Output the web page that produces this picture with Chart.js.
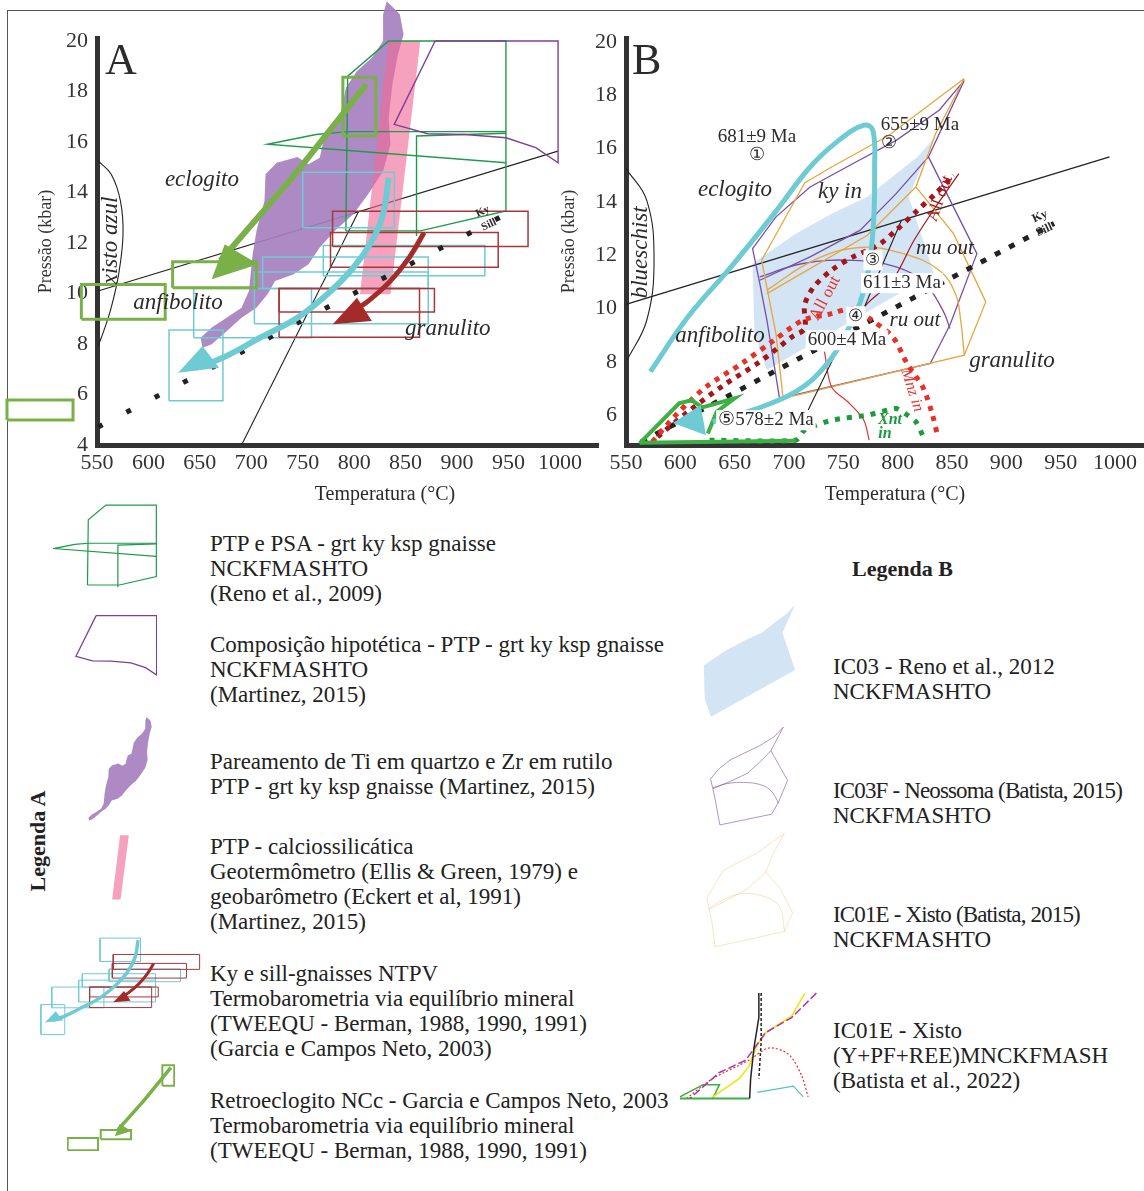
<!DOCTYPE html>
<html>
<head>
<meta charset="utf-8">
<script src="https://cdn.jsdelivr.net/npm/chart.js@4.4.0/dist/chart.umd.min.js"></script>
<style>
  body { margin: 0; background: #fff; }
  #page { position: relative; width: 1144px; height: 1191px; overflow: hidden;
          font-family: "Liberation Serif", "Times New Roman", serif; color: #222; }
  #page canvas { position: absolute; }
  .frame { position: absolute; left: 7px; top: 10px; width: 1150px; height: 1200px;
           border-top: 1.5px solid #555; border-left: 1.5px solid #555; }
  .lg { position: absolute; font-size: 23px; line-height: 25px; white-space: nowrap; }
  .tight { letter-spacing: -0.85px; }
  .title { position: absolute; font-weight: bold; font-size: 22px; white-space: nowrap; }
</style>
</head>
<body>
<div id="page">
  <div class="frame"></div>
  <canvas id="chartA" width="605" height="510" style="left:0;top:0"></canvas>
  <canvas id="chartB" width="594" height="510" style="left:550px;top:0"></canvas>

  <div class="title" style="left:-12px;top:828px;transform:rotate(-90deg);">Legenda A</div>
  <div class="title" style="left:852px;top:556px;">Legenda B</div>

  <div class="lg" style="left:210px;top:531px">PTP e PSA - grt ky ksp gnaisse<br>NCKFMASHTO<br>(Reno et al., 2009)</div>
  <div class="lg" style="left:210px;top:632px">Composição hipotética - PTP - grt ky ksp gnaisse<br>NCKFMASHTO<br>(Martinez, 2015)</div>
  <div class="lg" style="left:210px;top:749px">Pareamento de Ti em quartzo e Zr em rutilo<br>PTP - grt ky ksp gnaisse (Martinez, 2015)</div>
  <div class="lg" style="left:210px;top:834px">PTP - calciossilicática<br>Geotermômetro (Ellis &amp; Green, 1979) e<br>geobarômetro (Eckert et al, 1991)<br>(Martinez, 2015)</div>
  <div class="lg" style="left:210px;top:961px">Ky e sill-gnaisses NTPV<br>Termobarometria via equilíbrio mineral<br>(TWEEQU - Berman, 1988, 1990, 1991)<br>(Garcia e Campos Neto, 2003)</div>
  <div class="lg" style="left:210px;top:1088px">Retroeclogito NCc - Garcia e Campos Neto, 2003<br>Termobarometria via equilíbrio mineral<br>(TWEEQU - Berman, 1988, 1990, 1991)</div>

  <div class="lg" style="left:833px;top:654px">IC03 - Reno et al., 2012<br>NCKFMASHTO</div>
  <div class="lg" style="left:833px;top:778px"><span class="tight">IC03F - Neossoma (Batista, 2015)</span><br>NCKFMASHTO</div>
  <div class="lg" style="left:833px;top:902px"><span class="tight">IC01E - Xisto (Batista, 2015)</span><br>NCKFMASHTO</div>
  <div class="lg" style="left:833px;top:1018px">IC01E - Xisto<br>(Y+PF+REE)MNCKFMASH<br>(Batista et al., 2022)</div>
</div>

<script>
// ---- axes ----
const tempTicks = [550, 600, 650, 700, 750, 800, 850, 900, 950, 1000];
const pressTicksA = [4, 6, 8, 10, 12, 14, 16, 18, 20];
const pressTicksB = [6, 8, 10, 12, 14, 16, 18, 20];

// ---- diagram A ----
// Ti-in-quartz / Zr-in-rutile field (purple blob)
const blobT = [831.7, 844.4, 848.0, 842.5, 837.1, 833.5, 835.3, 828.1, 813.6, 799.1, 781.0, 766.5, 755.6, 741.2,
  723.1, 715.8, 705.0, 690.5, 676.0, 661.5, 652.5, 650.7, 661.5, 676.0, 690.5, 697.7, 701.3, 705.0, 712.8, 713.8,
  724.7, 744.8, 755.6, 766.5, 770.1, 773.8, 784.6, 788.2, 791.9, 802.7, 817.2, 828.1, 828.1];
const blobP = [21.58, 21.06, 20.26, 19.47, 18.28, 16.96, 15.91, 14.85, 13.93, 13.14, 12.48, 11.82, 11.16, 10.76,
  10.50, 9.97, 9.44, 9.04, 8.51, 7.99, 7.85, 8.25, 8.65, 9.04, 9.44, 10.10, 11.55, 12.48, 13.66, 14.72,
  15.18, 15.41, 15.12, 15.38, 16.04, 16.50, 16.70, 17.36, 18.15, 18.81, 19.34, 20.0, 21.06];
// calc-silicate band (pink)
const bandT = [833.5, 864.3, 835.3, 805.6];
const bandP = [20.0, 20.0, 9.97, 9.97];
// Reno et al. 2009 (green)
const renoOuterT = [791.9, 793.7, 833.5, 947.5, 947.5, 864.3, 791.9];
const renoOuterP = [12.48, 18.61, 20.0, 20.0, 13.27, 12.48, 12.48];
const renoWedgeT = [947.5, 793.7, 762.9, 715.8, 947.5];
const renoWedgeP = [16.41, 16.41, 16.30, 15.91, 15.18];
const renoInnerT = [860.6, 860.6, 947.5];
const renoInnerP = [12.28, 16.24, 16.35];
// Martinez 2015 (purple outline)
const martT = [878.7, 998.2, 998.2, 976.5, 947.5, 907.7, 871.5, 838.9, 878.7];
const martP = [20.0, 20.0, 15.18, 15.78, 16.17, 16.30, 16.33, 16.70, 20.0];
// reaction lines
const reactA1T = [551, 998];
const reactA1P = [10.1, 15.64];
const reactA2T = [690.5, 804.5];
const reactA2P = [4.0, 13.27];
const blueA_T = [551.1, 563.8, 572.8, 575.3, 571.0, 563.8, 556.5, 551.1];
const blueA_P = [15.25, 14.72, 13.66, 12.34, 10.76, 9.44, 8.51, 7.92];
const kySillAT = [551, 944];
const kySillAP = [4.71, 13.07];
// retroeclogite boxes (green)
const retroT1 = [789, 623.5, 534.8, 462.5];
const retroT2 = [821, 705, 616.3, 526.7];
const retroP1 = [16.24, 10.23, 8.98, 4.99];
const retroP2 = [18.57, 11.26, 10.36, 5.78];
const retroArrT = [811.8, 740, 670];
const retroArrP = [18.28, 14.6, 11.3];
const retroHeadT = [661.5, 674.2, 706.8];
const retroHeadP = [10.56, 11.95, 11.16];
// NTPV gneisses: cyan and dark red boxes
const cyanT1 = [750, 770, 711, 703, 644, 620];
const cyanT2 = [839, 927, 872, 872, 758.5, 672.4];
const cyanP1 = [12.6, 10.7, 10.2, 8.8, 8.25, 5.75];
const cyanP2 = [14.8, 11.9, 11.45, 10.85, 10.2, 8.55];
const redT1 = [779, 777, 727, 727];
const redT2 = [969, 940, 878, 863.5];
const redP1 = [11.86, 11.04, 9.27, 8.27];
const redP2 = [13.26, 12.42, 10.2, 10.2];
const cyanArrT = [833.5, 828.1, 817.2, 799.1, 773.8, 744.8, 708.6, 672.4, 645];
const cyanArrP = [14.59, 13.14, 12.08, 11.02, 9.97, 9.04, 8.25, 7.46, 7.05];
const cyanHeadT = [628.9, 652.5, 668.8];
const cyanHeadP = [6.86, 7.92, 7.06];
const redArrT = [867.9, 853.4, 835.3, 813.6, 799.1, 792];
const redArrP = [12.41, 11.42, 10.50, 9.70, 9.31, 9.1];
const redHeadT = [779.2, 802.7, 817.2];
const redHeadP = [8.78, 9.83, 8.91];

// ---- diagram B ----
const ic03T = [666.5, 706.2, 739.2, 772.2, 798.6, 818.4, 833.3, 810.2, 833.3, 679.7, 668.2];
const ic03P = [11.69, 12.81, 13.56, 14.19, 15.06, 15.69, 16.38, 14.19, 11.31, 7.69, 9.06];
const ic03fOutT = [861.3, 838.2, 798.6, 759.0, 719.4, 688.0, 666.5, 673.1, 679.7, 691.3, 830.0, 848.1, 872.9, 828.3, 861.3];
const ic03fOutP = [18.56, 17.44, 16.31, 15.44, 14.56, 13.44, 12.25, 10.94, 9.56, 6.63, 7.94, 9.38, 12.06, 15.69, 18.56];
const ic03fInT = [828.3, 798.6, 765.6, 719.4, 673.1];
const ic03fInP = [15.69, 14.31, 12.94, 11.94, 11.06];
const ic03fArcT = [673.1, 712.8, 759.0, 798.6, 825.0, 841.5, 848.1];
const ic03fArcP = [11.19, 11.69, 11.81, 11.56, 10.94, 9.94, 9.25];
const ic01eOutT = [861.3, 792.0, 739.2, 714.4, 674.8, 688.0, 694.6, 861.3, 881.1, 851.4, 816.8, 834.9, 861.3];
const ic01eOutP = [18.63, 16.5, 15.31, 14.71, 11.81, 9.06, 6.63, 8.25, 10.25, 12.81, 14.56, 16.56, 18.63];
const ic01eInT = [679.7, 772.2, 816.8];
const ic01eInP = [10.56, 12.75, 14.56];
const ic01eArcT = [679.7, 722.7, 765.6, 805.2, 838.2, 853.1, 858.0, 861.3];
const ic01eArcP = [10.69, 11.81, 12.29, 12.06, 11.44, 10.56, 9.56, 8.25];
const loopT = [572.4, 607.1, 646.7, 686.3, 719.4, 745.8, 768.9, 777.1, 778.8, 777.1, 768.9, 752.4, 732.6, 706.2, 666.5, 630];
const loopP = [7.63, 9.69, 11.56, 13.56, 15.31, 16.31, 16.88, 16.69, 15.31, 12.81, 10.69, 9.06, 7.81, 6.88, 6.19, 5.75];
const loopHeadT = [593.2, 618.7, 623.6];
const loopHeadP = [5.71, 6.38, 5.25];
const reactB1T = [550, 995];
const reactB1P = [10.16, 15.69];
const blueB_T = [550, 569.1, 575.8, 569.1, 551];
const blueB_P = [15.25, 14.06, 11.81, 9.56, 8.06];
const kySillBT = [564.2, 943.9];
const kySillBP = [5.0, 13.19];
const allOutDarkT = [579.1, 607.1, 640.1, 673.1, 702.9, 714.4, 714.4, 722.7, 739.2, 759.0, 782.1, 798.6, 818.4, 834.9, 851.4];
const allOutDarkP = [5.19, 6.13, 7.13, 8.0, 8.94, 9.25, 10.13, 10.81, 11.44, 11.94, 12.38, 12.94, 13.69, 14.31, 15.0];
const allOutRedT = [574.1, 597.2, 623.6, 656.6, 686.3, 712.8, 739.2, 759.0, 775, 795.7, 808.6, 823.3, 831.6, 837.1];
const allOutRedP = [5.0, 6.06, 7.06, 7.94, 8.81, 9.56, 9.81, 10.0, 9.6, 8.92, 7.94, 7.04, 6.07, 5.17];
const thinRedT = [732.6, 739.2, 755.7, 768.9, 773.8];
const thinRedP = [8.38, 7.06, 6.44, 5.81, 5.06];
const thinDarkT = [754.0, 772.2, 795.3, 815.1, 834.9, 856.4];
const thinDarkP = [9.19, 10.19, 11.06, 12.56, 13.81, 15.06];
const xntT = [626.9, 706.2, 714.4, 739.2, 772.2, 798.6, 806.9, 816.8, 825.0];
const xntP = [5.06, 5.06, 5.44, 5.81, 6.0, 6.25, 6.06, 5.75, 5.06];
const greenBaseT = [562.5, 706.2];
const greenBaseP = [4.96, 5.04];
const greenPathT = [562.5, 598.9, 610.4, 620.3, 650.0, 633.5, 625.3];
const greenPathP = [4.94, 6.44, 6.56, 6.29, 6.63, 6.13, 5.31];
const leader1T = [803.5, 759.0];
const leader1P = [13.31, 9.06];
const leader2T = [745.8, 717.7];
const leader2P = [8.56, 6.19];

// ---- small composite diagram used in legend B (its own units) ----
const mBlackT = [240, 240, 225, 215, 212];
const mBlackP = [360, 280, 180, 80, 15];
const mDashT = [247, 247, 240];
const mDashP = [360, 200, 80];
const mYellowT = [380, 340, 260, 235, 210, 180, 100];
const mYellowP = [360, 285, 230, 190, 120, 80, 20];
const mPurpleT = [415, 340, 260, 200, 120, 30];
const mPurpleP = [360, 280, 230, 140, 100, 15];
const mRedT = [20, 100, 210, 270, 330, 370, 390];
const mRedP = [15, 80, 140, 180, 160, 90, 20];
const mCyanT = [235, 345, 375];
const mCyanP = [35, 55, 20];
const mGreenT = [0, 70, 120, 100];
const mGreenP = [20, 60, 60, 15];
const mGreenBaseT = [0, 212];
const mGreenBaseP = [15, 15];

// ---- helpers ----
Chart.defaults.font.family = '"Liberation Serif", "Times New Roman", serif';
Chart.defaults.color = '#2b2b2b';

const SERIF = '"Liberation Serif", serif';
const pts = (xs, ys) => xs.map((x, i) => ({x: x, y: ys[i]}));

function line(xs, ys, color, width, extra) {
  return Object.assign({
    data: pts(xs, ys), showLine: true, borderColor: color, borderWidth: width,
    pointRadius: 0, fill: false, tension: 0, clip: false
  }, extra || {});
}
function rect(t1, t2, p1, p2, color, width) {
  return line([t1, t2, t2, t1, t1], [p1, p1, p2, p2, p1], color, width);
}
function rects(t1s, t2s, p1s, p2s, color, width) {
  return t1s.map((t, i) => rect(t, t2s[i], p1s[i], p2s[i], color, width));
}
function shape(xs, ys, color) {
  return line(xs, ys, 'rgba(0,0,0,0)', 1, {polyFill: color});
}

// fills closed outlines (not clipped to the chart area, unlike the filler)
const polyFill = {
  id: 'polyFill',
  beforeDatasetDraw(chart, args) {
    const ds = chart.data.datasets[args.index];
    if (!ds.polyFill) return;
    const ctx = chart.ctx;
    ctx.save();
    ctx.beginPath();
    args.meta.data.forEach((p, i) => i ? ctx.lineTo(p.x, p.y) : ctx.moveTo(p.x, p.y));
    ctx.closePath();
    ctx.fillStyle = ds.polyFill;
    ctx.fill();
    ctx.restore();
  }
};

// text placed in data units (or pixels when px is set)
const notes = {
  id: 'notes',
  afterDatasetsDraw(chart, args, opts) {
    const ctx = chart.ctx, sx = chart.scales.x, sy = chart.scales.y;
    (opts.items || []).forEach(it => {
      const x = it.px ? it.x : sx.getPixelForValue(it.x);
      const y = it.px ? it.y : sy.getPixelForValue(it.y);
      ctx.save();
      ctx.translate(x, y);
      ctx.rotate((it.rot || 0) * Math.PI / 180);
      ctx.font = it.font || '21px ' + SERIF;
      ctx.textAlign = it.align || 'center';
      ctx.textBaseline = 'middle';
      if (it.bg) {
        const w = ctx.measureText(it.text).width;
        ctx.fillStyle = it.bg;
        ctx.fillRect(-w / 2 - 2, -10, w + 4, 20);
      }
      ctx.fillStyle = it.color || '#2b2b2b';
      ctx.fillText(it.text, 0, 0);
      ctx.restore();
    });
  }
};

function layered(list) {
  // first item drawn first (bottom)
  list.forEach((d, i) => { d.order = list.length - i; });
  return list;
}

function mainChart(id, cfg) {
  return new Chart(document.getElementById(id), {
    type: 'scatter',
    data: {datasets: layered(cfg.datasets)},
    plugins: [polyFill, notes],
    options: {
      responsive: false, animation: false, events: [],
      layout: {padding: {top: 38, right: cfg.padRight, left: 0, bottom: 0}},
      plugins: {legend: {display: false}, tooltip: {enabled: false}, notes: {items: cfg.notes}},
      scales: {
        x: {
          type: 'linear', min: 550, max: cfg.xMax,
          afterBuildTicks: s => { s.ticks = tempTicks.map(v => ({value: v})); },
          afterFit: s => { s.height = 65; },
          grid: {display: false, drawTicks: false},
          border: {display: true, width: 5, color: '#333'},
          ticks: {font: {size: 22}, color: '#333', padding: 5, maxRotation: 0, autoSkip: false,
                  callback: v => String(v)}
        },
        y: {
          type: 'linear', min: cfg.yMin, max: cfg.yMax,
          afterBuildTicks: s => { s.ticks = cfg.yTicks.map(v => ({value: v})); },
          afterFit: s => { s.width = cfg.yWidth; },
          grid: {display: false, drawTicks: false},
          border: {display: true, width: 5, color: '#333'},
          ticks: {font: {size: 22}, color: '#333', padding: 9, autoSkip: false, callback: v => String(v)},
          title: {display: true, text: 'Pressão (kbar)', font: {size: 18}, color: '#333',
                  padding: {top: cfg.titlePad, bottom: 0}}
        }
      }
    }
  });
}

function iconChart(left, top, w, h, xr, yr, datasets) {
  const c = document.createElement('canvas');
  c.width = w; c.height = h;
  c.style.left = left + 'px'; c.style.top = top + 'px';
  document.getElementById('page').appendChild(c);
  return new Chart(c, {
    type: 'scatter',
    data: {datasets: layered(datasets)},
    plugins: [polyFill],
    options: {
      responsive: false, animation: false, events: [],
      layout: {padding: 0},
      plugins: {legend: {display: false}, tooltip: {enabled: false}},
      scales: {
        x: {type: 'linear', display: false, min: xr[0], max: xr[1]},
        y: {type: 'linear', display: false, min: yr[0], max: yr[1]}
      }
    }
  });
}

// ---- colours ----
const C = {
  blob: 'rgba(166,128,190,0.92)', band: 'rgba(240,105,150,0.62)', reno: '#1f9a4a', mart: '#7d3f9a',
  retro: '#79b047', cyan: '#6fcbd3', darkred: '#a8373a', arrowRed: '#a52a2a', ink: '#222',
  ic03: 'rgba(196,219,241,0.75)', ic03f: '#7a4ea6', ic01e: '#e8a53c', red: '#e8302a',
  redDark: '#a3161a', xnt: '#1e9a3c', green: '#3cb043'
};

// ---- chart A ----
const it = (text, x, y, extra) => Object.assign({text: text, x: x, y: y}, extra || {});
const ITAL = 'italic 23px ' + SERIF;

mainChart('chartA', {
  xMax: 1037, yMin: 4, yMax: 20.12, yTicks: pressTicksA, yWidth: 97, padRight: 7, titlePad: 35,
  datasets: [
    line(reactA1T, reactA1P, C.ink, 1.1),
    line(reactA2T, reactA2P, C.ink, 1.1),
    line(blueA_T, blueA_P, C.ink, 1.1, {tension: 0.4}),
    shape(blobT, blobP, C.blob),
    shape(bandT, bandP, C.band),
    line(renoOuterT, renoOuterP, C.reno, 1.4),
    line(renoWedgeT, renoWedgeP, C.reno, 1.4),
    line(renoInnerT, renoInnerP, C.reno, 1.4),
    line(martT, martP, C.mart, 1.4),
    ...rects(cyanT1, cyanT2, cyanP1, cyanP2, C.cyan, 1.5),
    ...rects(redT1, redT2, redP1, redP2, C.darkred, 1.5),
    ...rects(retroT1, retroT2, retroP1, retroP2, C.retro, 3),
    line(kySillAT, kySillAP, C.ink, 5, {borderDash: [5, 27]}),
    line(retroArrT, retroArrP, C.retro, 6),
    shape(retroHeadT, retroHeadP, C.retro),
    line(cyanArrT, cyanArrP, C.cyan, 6, {tension: 0.4}),
    shape(cyanHeadT, cyanHeadP, C.cyan),
    line(redArrT, redArrP, C.arrowRed, 5, {tension: 0.4}),
    shape(redHeadT, redHeadP, C.arrowRed)
  ],
  notes: [
    it('A', 557.8, 19.17, {font: '44px ' + SERIF, align: 'left'}),
    it('eclogito', 652, 14.5, {font: ITAL}),
    it('xisto azul', 563.6, 12.1, {font: ITAL, rot: -90}),
    it('anfibolito', 628.7, 9.62, {font: ITAL}),
    it('granulito', 891, 8.59, {font: ITAL}),
    it('Ky', 925, 13.25, {font: 'bold 11px ' + SERIF, rot: -25}),
    it('Sill', 931, 12.72, {font: 'bold 11px ' + SERIF, rot: -25}),
    it('Temperatura (°C)', 385, 495, {px: true, font: '20px ' + SERIF})
  ]
});

// ---- chart B ----
const LBL = '19px ' + SERIF;
mainChart('chartB', {
  xMax: 1026.7, yMin: 4.88, yMax: 20.15, yTicks: pressTicksB, yWidth: 76, padRight: 0, titlePad: 8,
  datasets: [
    shape(ic03T, ic03P, C.ic03),
    line(reactB1T, reactB1P, C.ink, 1.3),
    line(blueB_T, blueB_P, C.ink, 1.1, {tension: 0.4}),
    line(ic03fOutT, ic03fOutP, C.ic03f, 1.3),
    line(ic03fInT, ic03fInP, C.ic03f, 1.3),
    line(ic03fArcT, ic03fArcP, C.ic03f, 1.3, {tension: 0.4}),
    line(ic01eOutT, ic01eOutP, C.ic01e, 1.3),
    line(ic01eInT, ic01eInP, C.ic01e, 1.3),
    line(ic01eArcT, ic01eArcP, C.ic01e, 1.3, {tension: 0.4}),
    line(thinRedT, thinRedP, C.red, 1.2, {tension: 0.3}),
    line(thinDarkT, thinDarkP, C.redDark, 1.2, {tension: 0.3}),
    line(leader1T, leader1P, C.ink, 1.1),
    line(leader2T, leader2P, C.ink, 1.1),
    line(kySillBT, kySillBP, C.ink, 5, {borderDash: [6, 10]}),
    line(allOutDarkT, allOutDarkP, C.redDark, 5, {borderDash: [5, 6], tension: 0.3}),
    line(allOutRedT, allOutRedP, C.red, 5, {borderDash: [5, 6], tension: 0.3}),
    line(xntT, xntP, C.xnt, 5, {borderDash: [5, 7], tension: 0.2}),
    line(greenBaseT, greenBaseP, C.green, 4),
    line(greenPathT, greenPathP, C.green, 4),
    line(loopT, loopP, C.cyan, 5, {tension: 0.4}),
    shape(loopHeadT, loopHeadP, C.cyan)
  ],
  notes: [
    it('B', 555.5, 19.24, {font: '44px ' + SERIF, align: 'left'}),
    it('681±9 Ma', 670.5, 16.42, {font: LBL}),
    it('①', 670.5, 15.75, {font: '18px ' + SERIF}),
    it('655±9 Ma', 820.5, 16.87, {font: LBL}),
    it('②', 792, 16.2, {font: '18px ' + SERIF}),
    it('eclogito', 650.3, 14.44, {font: ITAL}),
    it('ky in', 746.9, 14.36, {font: ITAL}),
    it('All out', 838.9, 14.13, {font: '17px ' + SERIF, color: C.redDark, rot: -70}),
    it('mu out', 843.5, 12.26, {font: 'italic 21px ' + SERIF}),
    it('③', 777.3, 11.81, {font: '17px ' + SERIF, bg: '#fff'}),
    it('611±3 Ma', 804, 10.95, {font: LBL, bg: '#fff'}),
    it('All out', 733.1, 10.38, {font: '17px ' + SERIF, color: C.red, rot: -62}),
    it('④', 761.6, 9.71, {font: '17px ' + SERIF, bg: '#fff'}),
    it('ru out', 815.9, 9.56, {font: 'italic 21px ' + SERIF}),
    it('600±4 Ma', 753.4, 8.81, {font: LBL, bg: '#fff'}),
    it('anfibolito', 636.5, 8.96, {font: ITAL}),
    it('granulito', 905.2, 8.02, {font: ITAL}),
    it('Mnz in', 813.2, 6.93, {font: 'italic 16px ' + SERIF, color: C.red, rot: 72}),
    it('⑤578±2 Ma', 678.8, 5.81, {font: LBL, bg: '#fff'}),
    it('Xnt', 793, 5.81, {font: 'bold italic 16px ' + SERIF, color: C.xnt}),
    it('in', 788.3, 5.28, {font: 'bold italic 16px ' + SERIF, color: C.xnt}),
    it('blueschist', 563.8, 12.11, {font: 'italic 23px ' + SERIF, rot: -90}),
    it('Ky', 931, 13.45, {font: 'bold 12px ' + SERIF, rot: -25}),
    it('Sill', 935, 12.95, {font: 'bold 12px ' + SERIF, rot: -25}),
    it('Temperatura (°C)', 345, 495, {px: true, font: '20px ' + SERIF})
  ]
});

// ---- legend A icons ----
iconChart(53, 504, 104, 84, [714, 949], [12.2, 20.1], [
  line(renoOuterT, renoOuterP, C.reno, 1.2),
  line(renoWedgeT, renoWedgeP, C.reno, 1.2),
  line(renoInnerT, renoInnerP, C.reno, 1.2)
]);
iconChart(75, 615, 82, 61, [837, 999], [15.1, 20.05], [
  line(martT, martP, C.mart, 1.3)
]);
iconChart(88, 716, 64, 105, [649, 849], [7.8, 21.7], [
  shape(blobT, blobP, C.blob)
]);
iconChart(112, 835, 17, 65, [805, 865], [9.9, 20.05], [
  shape(bandT, bandP, C.band)
]);
iconChart(40, 937, 161, 99, [618, 972], [5.6, 14.9], [
  ...rects(cyanT1, cyanT2, cyanP1, cyanP2, C.cyan, 1),
  ...rects(redT1, redT2, redP1, redP2, C.darkred, 1),
  line(cyanArrT, cyanArrP, C.cyan, 3.5, {tension: 0.4}),
  shape(cyanHeadT, cyanHeadP, C.cyan),
  line(redArrT, redArrP, C.arrowRed, 3, {tension: 0.4}),
  shape(redHeadT, redHeadP, C.arrowRed)
]);
iconChart(67, 1064, 108, 87, [533, 823], [8.9, 18.7], [
  ...rects(retroT1.slice(0, 3), retroT2.slice(0, 3), retroP1.slice(0, 3), retroP2.slice(0, 3), C.retro, 2),
  line(retroArrT, retroArrP, C.retro, 3.5),
  shape(retroHeadT, retroHeadP, C.retro)
]);

// ---- legend B icons ----
iconChart(703, 603, 93, 115, [665, 835], [7.6, 16.5], [
  shape(ic03T, ic03P, C.ic03)
]);
iconChart(710, 726, 78, 100, [665, 874], [6.5, 18.7], [
  line(ic03fOutT, ic03fOutP, 'rgba(122,78,166,0.6)', 1),
  line(ic03fInT, ic03fInP, 'rgba(122,78,166,0.6)', 1),
  line(ic03fArcT, ic03fArcP, 'rgba(122,78,166,0.6)', 1, {tension: 0.4})
]);
iconChart(706, 833, 87, 115, [673, 882], [6.5, 18.7], [
  line(ic01eOutT, ic01eOutP, 'rgba(232,165,60,0.3)', 1),
  line(ic01eInT, ic01eInP, 'rgba(232,165,60,0.3)', 1),
  line(ic01eArcT, ic01eArcP, 'rgba(232,165,60,0.3)', 1, {tension: 0.4})
]);
iconChart(680, 987, 138, 116, [0, 420], [0, 380], [
  line(mRedT, mRedP, C.red, 1.2, {borderDash: [2, 2], tension: 0.3}),
  line(mCyanT, mCyanP, '#4fc3c8', 1.2),
  line(mGreenT, mGreenP, C.green, 1.5),
  line(mGreenBaseT, mGreenBaseP, C.green, 2),
  line(mYellowT, mYellowP, '#f2e600', 1.5),
  line(mPurpleT, mPurpleP, '#b02fb5', 1.5, {borderDash: [8, 3]}),
  line(mBlackT, mBlackP, C.ink, 1.5),
  line(mDashT, mDashP, C.ink, 1.5, {borderDash: [3, 2]})
]);
</script>
</body>
</html>
